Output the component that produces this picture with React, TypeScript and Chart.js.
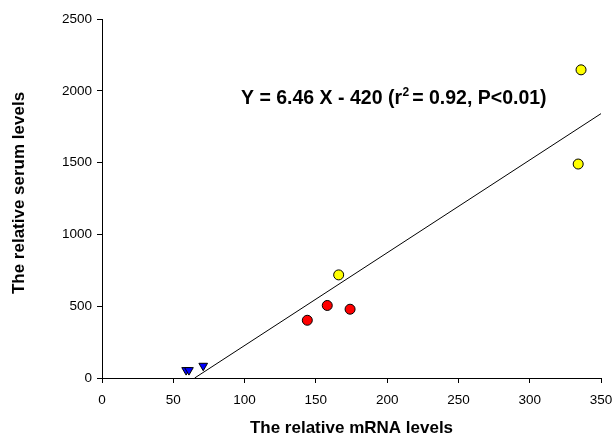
import React, { useEffect, useRef } from "react";
import { Chart, registerables } from "chart.js";

Chart.register(...registerables);

const blueX = [59, 61, 71];
const blueY = [55, 55, 85];
const redX = [144, 158, 174];
const redY = [402, 505, 479];
const yellowX = [166, 334, 336];
const yellowY = [718, 1490, 2146];
const fitX = [65, 350];
const fitY = [0, 1841];

const xTicks = [0, 50, 100, 150, 200, 250, 300, 350];
const yTicks = [0, 500, 1000, 1500, 2000, 2500];

const xTitle = "The relative mRNA levels";
const yTitle = "The relative serum levels";
const eqMain = "Y = 6.46 X - 420 (r";
const eqSup = "2";
const eqRest = "= 0.92, P<0.01)";

const FONT = "'Liberation Sans', Arial, Helvetica, sans-serif";

const zip = (xs: number[], ys: number[]) => xs.map((x, i) => ({ x, y: ys[i] }));

const overlay = {
  id: "overlay",
  afterDraw(chart: any) {
    const { ctx, chartArea } = chart;
    ctx.save();
    ctx.fillStyle = "#000";
    // x title
    ctx.font = `bold 17px ${FONT}`;
    ctx.textAlign = "center";
    ctx.textBaseline = "alphabetic";
    ctx.fillText(xTitle, (chartArea.left + chartArea.right) / 2, 433);
    // y title
    ctx.save();
    ctx.translate(23.5, 193);
    ctx.rotate(-Math.PI / 2);
    ctx.fillText(yTitle, 0, 0);
    ctx.restore();
    // equation
    ctx.textAlign = "left";
    ctx.font = `bold 19.5px ${FONT}`;
    let x = 241;
    const base = 103.5;
    ctx.fillText(eqMain, x, base);
    x += ctx.measureText(eqMain).width + 0.5;
    ctx.font = `bold 12px ${FONT}`;
    ctx.fillText(eqSup, x, base - 8);
    x += ctx.measureText(eqSup).width + 3;
    ctx.font = `bold 19.5px ${FONT}`;
    ctx.fillText(eqRest, x, base);
    ctx.restore();
  },
};

export default function App() {
  const ref = useRef<HTMLCanvasElement>(null);
  useEffect(() => {
    const canvas = ref.current!;
    const chart = new Chart(canvas, {
      type: "scatter",
      data: {
        datasets: [
          {
            type: "line",
            data: zip(fitX, fitY),
            borderColor: "#000",
            borderWidth: 1,
            pointRadius: 0,
            fill: false,
          } as any,
          {
            data: zip(blueX, blueY),
            pointStyle: "triangle",
            rotation: 180,
            pointRadius: 5,
            backgroundColor: "#0000FF",
            borderColor: "#000",
            borderWidth: 1,
          },
          {
            data: zip(redX, redY),
            pointStyle: "circle",
            pointRadius: 5,
            backgroundColor: "#FF0000",
            borderColor: "#000",
            borderWidth: 1,
          },
          {
            data: zip(yellowX, yellowY),
            pointStyle: "circle",
            pointRadius: 5,
            backgroundColor: "#FFFF00",
            borderColor: "#000",
            borderWidth: 1,
          },
        ],
      },
      options: {
        animation: false,
        responsive: false,
        devicePixelRatio: 1,
        layout: { padding: { left: 0, top: 19, right: 13, bottom: 0 } },
        plugins: { legend: { display: false }, tooltip: { enabled: false } },
        scales: {
          x: {
            type: "linear",
            min: 0,
            max: 350,
            afterFit: (s: any) => {
              s.height = 55;
              s.paddingLeft = 0;
              s.paddingRight = 0;
            },
            afterBuildTicks: (s: any) => {
              s.ticks = xTicks.map((v) => ({ value: v }));
            },
            grid: { drawOnChartArea: false, drawTicks: true, tickLength: 5, color: "#000" },
            border: { display: true, color: "#000", width: 1 },
            ticks: {
              color: "#000",
              font: { family: FONT, size: 13.5 },
              padding: 9,
              maxRotation: 0,
              callback: (v: any) => String(v),
            },
          },
          y: {
            type: "linear",
            min: 0,
            max: 2500,
            afterFit: (s: any) => {
              s.width = 102;
              s.paddingTop = 0;
              s.paddingBottom = 0;
            },
            afterBuildTicks: (s: any) => {
              s.ticks = yTicks.map((v) => ({ value: v }));
            },
            grid: { drawOnChartArea: false, drawTicks: true, tickLength: 5, color: "#000" },
            border: { display: true, color: "#000", width: 1 },
            ticks: {
              color: "#000",
              font: { family: FONT, size: 13.5 },
              padding: 5,
              callback: (v: any) => String(v),
            },
          },
        },
      } as any,
      plugins: [overlay],
    });
    return () => chart.destroy();
  }, []);
  return (
    <div style={{ position: "fixed", left: 0, top: 0, width: 614, height: 433, background: "#fff" }}>
      <canvas ref={ref} width={614} height={433} style={{ width: 614, height: 433 }} />
    </div>
  );
}
